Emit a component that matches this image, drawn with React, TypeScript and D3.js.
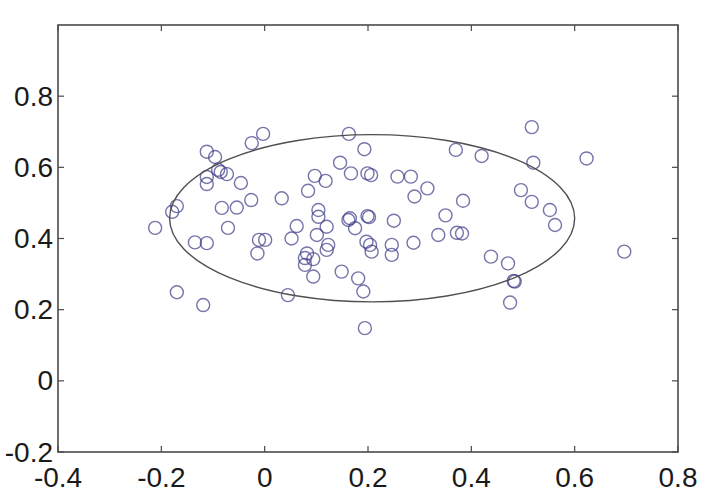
import React from "react";
import * as d3 from "d3";

const xs = [
  -0.212, -0.179, -0.170, -0.170, -0.119, -0.135, -0.112,
  -0.112, -0.096, -0.090, -0.085, -0.073, -0.112, -0.112, -0.046, -0.083, -0.054, -0.026, 0.033, -0.025, -0.003, -0.071,
  -0.011, 0.001, -0.014, 0.062, 0.052, 0.045,
  0.163, 0.193, 0.370, 0.146, 0.167, 0.199, 0.206, 0.097, 0.118, 0.084, 0.257, 0.283, 0.315, 0.290, 0.384, 0.350, 0.250,
  0.104, 0.104, 0.165, 0.162, 0.199, 0.202, 0.120,
  0.101, 0.175, 0.123, 0.120, 0.082, 0.078, 0.094, 0.078, 0.094, 0.149, 0.181, 0.191, 0.194,
  0.197, 0.204, 0.207, 0.246, 0.246, 0.288, 0.336, 0.372, 0.382,
  0.517, 0.623, 0.520, 0.420, 0.496, 0.517, 0.552, 0.562,
  0.696, 0.438, 0.471, 0.484, 0.482, 0.475,
];
const ys = [
  0.430, 0.475, 0.491, 0.249, 0.213, 0.389, 0.387,
  0.644, 0.629, 0.593, 0.587, 0.581, 0.573, 0.553, 0.556, 0.486, 0.487, 0.508, 0.513, 0.668, 0.694, 0.430,
  0.396, 0.396, 0.358, 0.435, 0.400, 0.241,
  0.694, 0.651, 0.649, 0.613, 0.583, 0.583, 0.578, 0.576, 0.562, 0.534, 0.574, 0.574, 0.541, 0.518, 0.506, 0.465, 0.450,
  0.480, 0.461, 0.457, 0.452, 0.463, 0.460, 0.433,
  0.410, 0.429, 0.382, 0.368, 0.358, 0.345, 0.342, 0.326, 0.293, 0.307, 0.288, 0.251, 0.148,
  0.391, 0.382, 0.363, 0.382, 0.354, 0.388, 0.410, 0.416, 0.414,
  0.713, 0.625, 0.613, 0.632, 0.536, 0.503, 0.480, 0.438,
  0.363, 0.349, 0.330, 0.279, 0.281, 0.220,
];

const xTicks = [-0.4, -0.2, 0, 0.2, 0.4, 0.6, 0.8];
const yTicks = [-0.2, 0, 0.2, 0.4, 0.6, 0.8];

// fitted ellipse: center and semi-axes (data units)
const ellipseCenter = [0.208, 0.457];
const ellipseRadii = [0.392, 0.235];

const W = 712;
const H = 500;
const left = 58, right = 678, top = 25, bottom = 452;

export default function App() {
  const x = d3.scaleLinear().domain([-0.4, 0.8]).range([left, right]);
  const y = d3.scaleLinear().domain([-0.2, 1.0]).range([bottom, top]);
  const axisColor = "#4a4a4a";
  const tickLen = 6;
  const font = "'Liberation Sans', Arial, Helvetica, sans-serif";
  const fmt = (v: number) => (Math.abs(v) < 1e-9 ? "0" : String(+v.toFixed(1)));

  const ecx = x(ellipseCenter[0]);
  const ecy = y(ellipseCenter[1]);
  const erx = x(ellipseCenter[0] + ellipseRadii[0]) - ecx;
  const ery = ecy - y(ellipseCenter[1] + ellipseRadii[1]);

  return (
    <svg
      width={W}
      height={H}
      style={{ position: "absolute", left: 0, top: 0, background: "#fff" }}
    >
      <rect x={0} y={0} width={W} height={H} fill="#fff" />
      {/* points */}
      <g fill="none" stroke="#3a3a88" strokeOpacity={0.7} strokeWidth={1.4}>
        {xs.map((v, i) => (
          <circle key={i} cx={x(v)} cy={y(ys[i])} r={6.5} />
        ))}
      </g>
      {/* ellipse */}
      <ellipse
        cx={ecx}
        cy={ecy}
        rx={erx}
        ry={ery}
        fill="none"
        stroke="#505050"
        strokeWidth={1.4}
      />
      {/* box */}
      <rect
        x={left}
        y={top}
        width={right - left}
        height={bottom - top}
        fill="none"
        stroke={axisColor}
        strokeWidth={1.6}
      />
      {/* ticks */}
      <g stroke={axisColor} strokeWidth={1.2}>
        {xTicks.map((t) => (
          <g key={"xt" + t}>
            <line x1={x(t)} x2={x(t)} y1={bottom} y2={bottom - tickLen} />
            <line x1={x(t)} x2={x(t)} y1={top} y2={top + tickLen} />
          </g>
        ))}
        {yTicks.map((t) => (
          <g key={"yt" + t}>
            <line x1={left} x2={left + tickLen} y1={y(t)} y2={y(t)} />
            <line x1={right} x2={right - tickLen} y1={y(t)} y2={y(t)} />
          </g>
        ))}
      </g>
      {/* labels */}
      <g fill="#1a1a1a" fontFamily={font} fontSize={28}>
        {xTicks.map((t) => (
          <text key={"xl" + t} x={x(t)} y={487} textAnchor="middle">
            {fmt(t)}
          </text>
        ))}
        {yTicks.map((t) => (
          <text
            key={"yl" + t}
            x={53}
            y={y(t)}
            textAnchor="end"
            dominantBaseline="central"
          >
            {fmt(t)}
          </text>
        ))}
      </g>
    </svg>
  );
}
